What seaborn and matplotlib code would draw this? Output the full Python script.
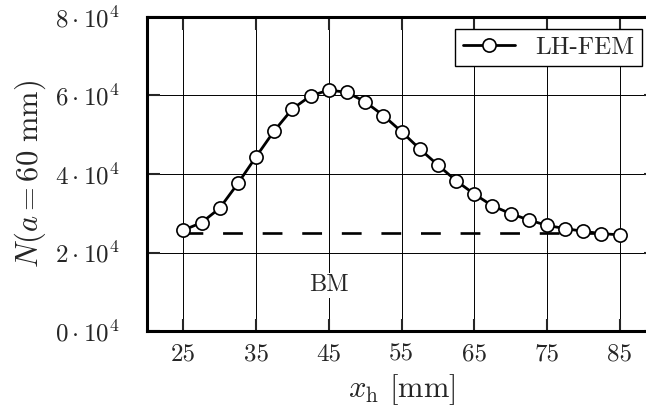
import numpy as np
import pandas as pd
import matplotlib
matplotlib.use('Agg')
import matplotlib.pyplot as plt
from matplotlib.ticker import FixedLocator, FuncFormatter
import seaborn as sns

# hole position and cycles to a = 60 mm
x_h = [25, 27.5, 30, 32.5, 35, 37.5, 40, 42.5, 45, 47.5, 50, 52.5, 55,
       57.5, 60, 62.5, 65, 67.5, 70, 72.5, 75, 77.5, 80, 82.5, 85]
n_lhfem = [2.57e4, 2.76e4, 3.13e4, 3.76e4, 4.44e4, 5.10e4, 5.66e4, 5.99e4,
           6.14e4, 6.08e4, 5.84e4, 5.49e4, 5.08e4, 4.64e4, 4.23e4, 3.83e4,
           3.49e4, 3.19e4, 2.99e4, 2.83e4, 2.69e4, 2.61e4, 2.54e4, 2.48e4,
           2.45e4]
# base material reference
bm_x = [25, 85]
bm_y = [2.5e4, 2.5e4]

x_ticks = [25, 35, 45, 55, 65, 75, 85]
y_ticks = [0, 2e4, 4e4, 6e4, 8e4]

sns.set_style('ticks')
plt.rcParams['font.family'] = 'serif'
plt.rcParams['font.serif'] = ['cmr10', 'DejaVu Serif']
plt.rcParams['mathtext.fontset'] = 'cm'
plt.rcParams['axes.unicode_minus'] = False
plt.rcParams['axes.formatter.use_mathtext'] = True

df = pd.DataFrame({'x': x_h, 'N': n_lhfem})

fig = plt.figure(figsize=(6.46, 4.15), dpi=100)
ax = fig.add_axes([147 / 646, 84 / 415, (656 - 147) / 646, 314 / 415])

sns.lineplot(data=df, x='x', y='N', ax=ax, color='black', lw=2,
             marker='o', markersize=9.5, markerfacecolor='white',
             markeredgecolor='black', markeredgewidth=1.2, label='LH-FEM',
             zorder=4)
ax.plot(bm_x, bm_y, color='black', lw=1.9, dashes=(7.5, 7.5), zorder=3)
ax.text(45, 1.17e4, 'BM', ha='center', va='center', fontsize=17.5,
        bbox=dict(facecolor='white', edgecolor='none', pad=1), zorder=3)

ax.set_xlim(20, 90)
ax.set_ylim(0, 8e4)
ax.xaxis.set_major_locator(FixedLocator(x_ticks))
ax.yaxis.set_major_locator(FixedLocator(y_ticks))
ax.yaxis.set_major_formatter(FuncFormatter(lambda v, p: r'$%d\cdot10^{4}$' % round(v / 1e4)))
ax.set_xticklabels([str(t) for t in x_ticks])

ax.grid(True, color='black', lw=0.7)
ax.set_axisbelow(True)
ax.tick_params(direction='in', length=9, width=1.5, labelsize=18,
               top=True, right=True)
ax.tick_params(axis='x', pad=9)
ax.tick_params(axis='y', pad=20)
for s in ax.spines.values():
    s.set_linewidth(2.2)
    s.set_color('black')

ax.set_xlabel(r'$x_\mathrm{h}$ [mm]', fontsize=22)
ax.set_ylabel(r'$N(a = 60\ \mathrm{mm})$', fontsize=22)
ax.xaxis.set_label_coords(0.5, -0.13)
ax.yaxis.set_label_coords(-0.195, 0.5)

leg = ax.legend(loc='upper right', bbox_to_anchor=(642 / 646, 1 - 29 / 415),
                bbox_transform=fig.transFigure, borderaxespad=0, fontsize=18,
                fancybox=False, edgecolor='black', framealpha=1,
                handlelength=2.1, handletextpad=0.8, borderpad=0.3)
leg.get_frame().set_linewidth(1.0)

fig.savefig('out.png', dpi=100)
